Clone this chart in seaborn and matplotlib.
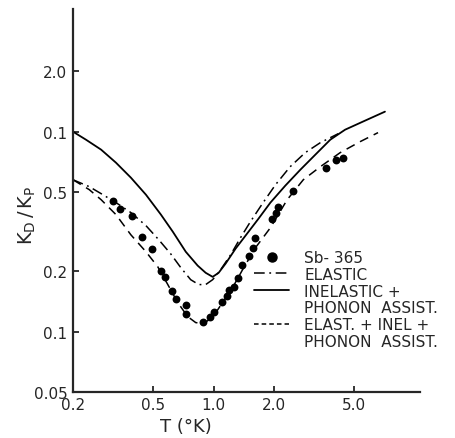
import numpy as np
import pandas as pd
import matplotlib
matplotlib.use("Agg")
import matplotlib.pyplot as plt
from matplotlib.lines import Line2D
import seaborn as sns

# measured points, Sb-365
t_dots = [0.316, 0.343, 0.393, 0.440, 0.493, 0.547, 0.572, 0.620, 0.649, 0.727,
          0.727, 0.882, 0.955, 1.00, 1.095, 1.16, 1.187, 1.256, 1.315, 1.376,
          1.507, 1.578, 1.614, 1.959, 2.03, 2.10, 2.49, 3.63, 4.06, 4.40]
k_dots = [0.452, 0.412, 0.380, 0.298, 0.260, 0.202, 0.188, 0.160, 0.145, 0.136,
          0.122, 0.112, 0.119, 0.126, 0.141, 0.151, 0.162, 0.168, 0.186, 0.216,
          0.240, 0.263, 0.295, 0.367, 0.394, 0.422, 0.507, 0.661, 0.724, 0.741]

# elastic (dash-dot)
t_elastic = [0.2, 0.241, 0.276, 0.327, 0.388, 0.461, 0.534, 0.612, 0.687, 0.769,
             0.843, 0.913, 0.989, 1.083, 1.214, 1.360, 1.524, 1.748, 2.03, 2.40,
             2.85, 3.39, 4.16]
k_elastic = [0.575, 0.531, 0.490, 0.442, 0.394, 0.339, 0.288, 0.245, 0.209, 0.182,
             0.172, 0.172, 0.182, 0.204, 0.242, 0.295, 0.355, 0.437, 0.543, 0.668,
             0.785, 0.881, 0.977]

# inelastic + phonon assist (solid)
t_inel = [0.2, 0.232, 0.276, 0.327, 0.388, 0.461, 0.547, 0.627, 0.727, 0.833,
          0.913, 0.989, 1.059, 1.147, 1.285, 1.44, 1.67, 1.915, 2.27, 2.70,
          3.20, 3.80, 4.50, 5.65, 7.10]
k_inel = [1.0, 0.912, 0.813, 0.700, 0.589, 0.484, 0.385, 0.316, 0.251, 0.214,
          0.197, 0.188, 0.197, 0.219, 0.260, 0.302, 0.367, 0.442, 0.537, 0.646,
          0.767, 0.912, 1.023, 1.135, 1.259]

# elastic + inelastic + phonon assist (dashed)
t_total = [0.2, 0.241, 0.276, 0.327, 0.388, 0.461, 0.528, 0.592, 0.663, 0.743,
           0.815, 0.892, 0.989, 1.108, 1.242, 1.392, 1.614, 1.915, 2.32, 2.79,
           3.39, 4.25, 5.34, 6.56]
k_total = [0.575, 0.513, 0.457, 0.385, 0.305, 0.251, 0.211, 0.172, 0.140, 0.119,
           0.111, 0.110, 0.118, 0.140, 0.166, 0.204, 0.263, 0.331, 0.457, 0.575,
           0.668, 0.785, 0.891, 0.989]

x_ticks = [0.2, 0.5, 1.0, 2.0, 5.0]
x_labels = ["0.2", "0.5", "1.0", "2.0", "5.0"]
y_ticks = [0.05, 0.1, 0.2, 0.5, 1.0, 2.0]
y_labels = ["0.05", "0.1", "0.2", "0.5", "0.1", "2.0"]

sns.set_style("ticks")
plt.rcParams["font.family"] = ["DejaVu Sans"]
plt.rcParams["font.size"] = 11

fig = plt.figure(figsize=(4.56, 4.39), dpi=100)
ax = fig.add_axes([0.160, 0.105, 0.761, 0.872])

dashdot = (0, (7, 3, 1.2, 3))
sns.lineplot(x=t_elastic, y=k_elastic, ax=ax, color="black", lw=1.1,
             linestyle=dashdot, sort=False, estimator=None)
sns.lineplot(x=t_inel, y=k_inel, ax=ax, color="black", lw=1.3,
             sort=False, estimator=None)
sns.lineplot(x=t_total, y=k_total, ax=ax, color="black", lw=1.1,
             linestyle=(0, (6, 4)), sort=False, estimator=None)
sns.scatterplot(x=t_dots, y=k_dots, ax=ax, color="black", s=32,
                edgecolor="black", linewidth=0, zorder=3)

ax.set_xscale("log")
ax.set_yscale("log")
ax.set_xlim(0.2, 10.6)
ax.set_ylim(0.05, 4.1)
ax.set_xticks(x_ticks)
ax.set_xticklabels(x_labels)
ax.set_yticks(y_ticks)
ax.set_yticklabels(y_labels)
ax.minorticks_off()
ax.tick_params(direction="in", length=4, width=1.3, labelsize=11, pad=4)
for side in ["top", "right"]:
    ax.spines[side].set_visible(False)
for side in ["left", "bottom"]:
    ax.spines[side].set_linewidth(1.6)

ax.set_xlabel("T (°K)", fontsize=13)
ax.xaxis.set_label_coords((186 - 73) / 347, -0.065)
ax.set_ylabel(r"$\mathregular{K_D\,/\,K_P}$", fontsize=14)
ax.yaxis.set_label_coords(-0.10, (393 - 215) / 383)

blank = Line2D([], [], color="none")
handles = [
    Line2D([], [], marker="o", color="black", ls="none", markersize=6.5),
    Line2D([], [], color="black", lw=1.1, linestyle=dashdot),
    Line2D([], [], color="black", lw=1.3),
    blank,
    Line2D([], [], color="black", lw=1.1, linestyle=(0, (3, 2))),
    blank,
]
labels = ["Sb- 365", "ELASTIC", "INELASTIC +", "PHONON  ASSIST.",
          "ELAST. + INEL +", "PHONON  ASSIST."]
ax.legend(handles, labels, loc="upper left",
          bbox_to_anchor=((254 - 73) / 347, (393 - 251) / 383),
          frameon=False, borderpad=0, borderaxespad=0, handlelength=2.3,
          handletextpad=1.0, labelspacing=0.12, fontsize=11)

fig.savefig("out.png", dpi=100)
